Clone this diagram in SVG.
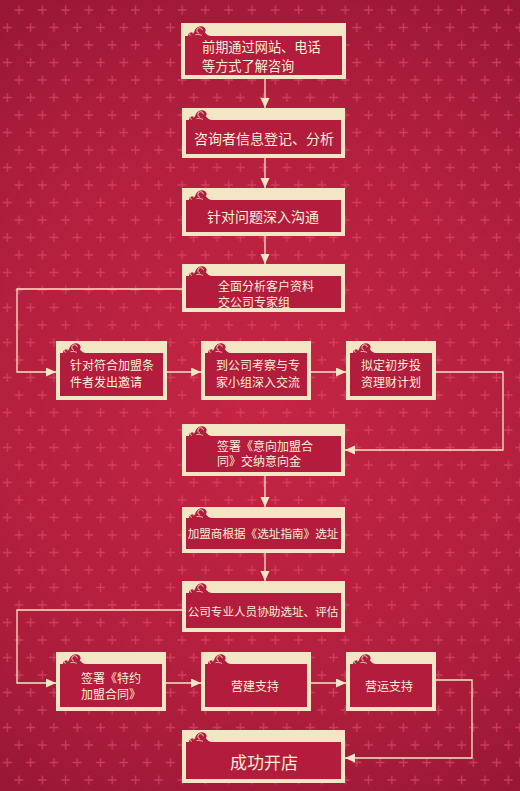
<svg xmlns="http://www.w3.org/2000/svg" xmlns:xlink="http://www.w3.org/1999/xlink" width="520" height="791" viewBox="0 0 520 791">
<style>
.frame{fill:#f3e6c5}
.inner{fill:#b21d3d}
.t{font-family:"Noto Sans CJK SC","Noto Sans CJK TC",sans-serif;fill:#f8eed6;font-size:12px}
.c{text-anchor:middle}
.ln{stroke:#f3e6c5;stroke-width:1.3;fill:none}
.orn{fill:#b21d3d}
.sw{fill:none;stroke:#f3e6c5;stroke-width:0.8}
</style>
<defs>
<radialGradient id="bg" cx="260" cy="400" r="480" gradientUnits="userSpaceOnUse">
<stop offset="0" stop-color="#c42543"/>
<stop offset="0.6" stop-color="#b21f3e"/>
<stop offset="1" stop-color="#961733"/>
</radialGradient>
<pattern id="cross" x="0" y="0" width="23.3" height="35" patternUnits="userSpaceOnUse">
<g stroke="#e0486a" stroke-width="1.4" stroke-opacity="0.7">
<path d="M14.5,10H23.5M19,5.5V14.5"/>
<path d="M2.8,27.5H11.8M7.3,23V32"/>
</g>
</pattern>
<marker id="ah" markerUnits="userSpaceOnUse" markerWidth="10" markerHeight="10" refX="10" refY="4.5" orient="auto">
<path d="M0,0L10,4.5L0,9Z" fill="#f3e6c5"/>
</marker>
<g id="orn">
<path class="orn" d="M0,1V0H3C3,-3.5 6.5,-5 9,-3C9.5,-7.5 13.5,-10.5 17.5,-9.5C20.5,-8.8 21.5,-5.5 19.8,-3.8C21.5,-1.5 23.5,0 26,0V1Z"/>
<path class="sw" d="M5.8,-0.6a1.8,1.8 0 1 1 2,-1.8M14,-2.8a2.8,2.8 0 1 1 3.4,-3M10.5,-1.3c2,-0.5 4.200,-0.3 6.4,0.7"/>
</g>
</defs>
<rect width="520" height="791" fill="url(#bg)"/>
<rect width="520" height="791" fill="url(#cross)"/>

<g id="connectors">
<path class="ln" d="M265,79V108" marker-end="url(#ah)"/>
<path class="ln" d="M265,158V188" marker-end="url(#ah)"/>
<path class="ln" d="M265,236V264" marker-end="url(#ah)"/>
<path class="ln" d="M182,289H17V372H56" marker-end="url(#ah)"/>
<path class="ln" d="M166,372H201" marker-end="url(#ah)"/>
<path class="ln" d="M311,372H346" marker-end="url(#ah)"/>
<path class="ln" d="M436,372H503V450H345" marker-end="url(#ah)"/>
<path class="ln" d="M265,476V507" marker-end="url(#ah)"/>
<path class="ln" d="M265,553V581" marker-end="url(#ah)"/>
<path class="ln" d="M182,610H17V683H56" marker-end="url(#ah)"/>
<path class="ln" d="M166,683H201" marker-end="url(#ah)"/>
<path class="ln" d="M311,683H346" marker-end="url(#ah)"/>
<path class="ln" d="M436,680H472V758H345" marker-end="url(#ah)"/>
</g>

<g id="n1">
<rect class="frame" x="181" y="23" width="165" height="56"/>
<rect class="inner" x="185" y="36" width="157" height="39"/>
<use xlink:href="#orn" x="185" y="36"/>
<text class="t" style="font-size:13.2px" x="202" y="52">前期通过网站、电话</text>
<text class="t" style="font-size:13.2px" x="202" y="70.5">等方式了解咨询</text>
</g>
<g id="n2">
<rect class="frame" x="182" y="108" width="163" height="50"/>
<rect class="inner" x="186" y="120" width="155" height="34"/>
<use xlink:href="#orn" x="186" y="120"/>
<text class="t c" style="font-size:14px" x="264" y="144">咨询者信息登记、分析</text>
</g>
<g id="n3">
<rect class="frame" x="182" y="188" width="163" height="48"/>
<rect class="inner" x="186" y="200" width="155" height="32"/>
<use xlink:href="#orn" x="186" y="200"/>
<text class="t c" style="font-size:14px" x="263" y="222">针对问题深入沟通</text>
</g>
<g id="n4">
<rect class="frame" x="182" y="264" width="163" height="48"/>
<rect class="inner" x="186" y="276" width="155" height="32"/>
<use xlink:href="#orn" x="186" y="276"/>
<text class="t" x="218" y="291">全面分析客户资料</text>
<text class="t" x="218" y="306.5">交公司专家组</text>
</g>
<g id="n5">
<rect class="frame" x="56" y="341" width="111" height="59"/>
<rect class="inner" x="60" y="353" width="103" height="43"/>
<use xlink:href="#orn" x="60" y="353"/>
<text class="t" x="70" y="369.5">针对符合加盟条</text>
<text class="t" x="70" y="386.5">件者发出邀请</text>
</g>
<g id="n6">
<rect class="frame" x="201" y="341" width="110" height="59"/>
<rect class="inner" x="205" y="353" width="102" height="43"/>
<use xlink:href="#orn" x="205" y="353"/>
<text class="t" x="216" y="369.5">到公司考察与专</text>
<text class="t" x="216" y="386.5">家小组深入交流</text>
</g>
<g id="n7">
<rect class="frame" x="346" y="341" width="90" height="59"/>
<rect class="inner" x="350" y="353" width="82" height="43"/>
<use xlink:href="#orn" x="350" y="353"/>
<text class="t" x="361" y="369.5">拟定初步投</text>
<text class="t" x="361" y="386.5">资理财计划</text>
</g>
<g id="n8">
<rect class="frame" x="182" y="424" width="163" height="52"/>
<rect class="inner" x="186" y="436" width="155" height="36"/>
<use xlink:href="#orn" x="186" y="436"/>
<text class="t" x="217" y="450.5">签署《意向加盟合</text>
<text class="t" x="217" y="466">同》交纳意向金</text>
</g>
<g id="n9">
<rect class="frame" x="182" y="507" width="163" height="46"/>
<rect class="inner" x="186" y="518" width="155" height="31"/>
<use xlink:href="#orn" x="186" y="518"/>
<text class="t c" style="font-size:11.6px" x="263" y="537.5">加盟商根据《选址指南》选址</text>
</g>
<g id="n10">
<rect class="frame" x="182" y="581" width="163" height="51"/>
<rect class="inner" x="186" y="593" width="155" height="35"/>
<use xlink:href="#orn" x="186" y="593"/>
<text class="t c" style="font-size:11.6px" x="263" y="615.5">公司专业人员协助选址、评估</text>
</g>
<g id="n11">
<rect class="frame" x="56" y="652" width="110" height="59"/>
<rect class="inner" x="60" y="664" width="102" height="43"/>
<use xlink:href="#orn" x="60" y="664"/>
<text class="t" x="81" y="682.5">签署《特约</text>
<text class="t" x="81" y="698.5">加盟合同》</text>
</g>
<g id="n12">
<rect class="frame" x="201" y="652" width="110" height="59"/>
<rect class="inner" x="205" y="664" width="102" height="43"/>
<use xlink:href="#orn" x="205" y="664"/>
<text class="t c" x="255" y="690.5">营建支持</text>
</g>
<g id="n13">
<rect class="frame" x="346" y="652" width="90" height="59"/>
<rect class="inner" x="350" y="664" width="82" height="43"/>
<use xlink:href="#orn" x="350" y="664"/>
<text class="t c" x="389" y="690.5">营运支持</text>
</g>
<g id="n14">
<rect class="frame" x="182" y="730" width="163" height="53"/>
<rect class="inner" x="186" y="742" width="155" height="37"/>
<use xlink:href="#orn" x="186" y="742"/>
<text class="t c" style="font-size:17px" x="264" y="768.5">成功开店</text>
</g>
</svg>
